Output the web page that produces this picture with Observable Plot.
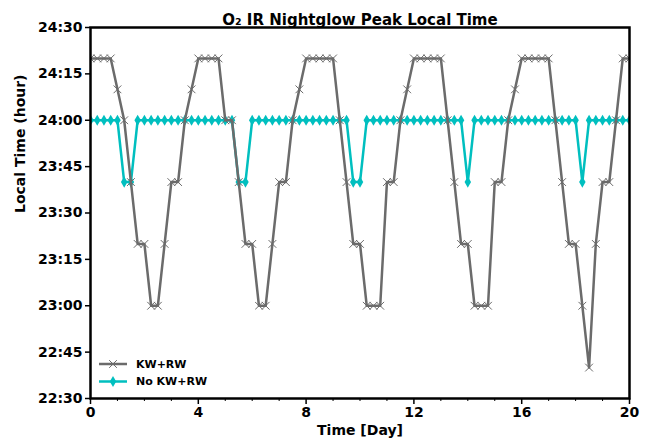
<!DOCTYPE html>
<html><head><meta charset="utf-8">
<script src="https://cdn.jsdelivr.net/npm/d3@7"></script>
<script src="https://cdn.jsdelivr.net/npm/@observablehq/plot@0.6"></script>
<style>body{margin:0;background:#fff;} svg{display:block;}</style>
</head><body><div id="chart"></div>
<script>
// ---- data ----
const days = [0,0.25,0.5,0.75,1,1.25,1.5,1.75,2,2.25,2.5,2.75,3,3.25,3.5,3.75,4,4.25,4.5,4.75,
  5,5.25,5.5,5.75,6,6.25,6.5,6.75,7,7.25,7.5,7.75,8,8.25,8.5,8.75,9,9.25,9.5,9.75,
  10,10.25,10.5,10.75,11,11.25,11.5,11.75,12,12.25,12.5,12.75,13,13.25,13.5,13.75,14,14.25,14.5,14.75,
  15,15.25,15.5,15.75,16,16.25,16.5,16.75,17,17.25,17.5,17.75,18,18.25,18.5,18.75,19,19.25,19.5,19.75,20];
const kwrw = ["24:20","24:20","24:20","24:20","24:10","24:00","23:40","23:20","23:20","23:00",
  "23:00","23:20","23:40","23:40","24:00","24:10","24:20","24:20","24:20","24:20",
  "24:00","24:00","23:40","23:20","23:20","23:00","23:00","23:20","23:40","23:40",
  "24:00","24:10","24:20","24:20","24:20","24:20","24:20","24:00","23:40","23:20",
  "23:20","23:00","23:00","23:00","23:40","23:40","24:00","24:10","24:20","24:20",
  "24:20","24:20","24:20","24:00","23:40","23:20","23:20","23:00","23:00","23:00",
  "23:40","23:40","24:00","24:10","24:20","24:20","24:20","24:20","24:20","24:00",
  "23:40","23:20","23:20","23:00","22:40","23:20","23:40","23:40","24:00","24:20","24:20"];
const noKwrw = ["24:00","24:00","24:00","24:00","24:00","23:40","23:40","24:00","24:00","24:00",
  "24:00","24:00","24:00","24:00","24:00","24:00","24:00","24:00","24:00","24:00",
  "24:00","24:00","23:40","23:40","24:00","24:00","24:00","24:00","24:00","24:00",
  "24:00","24:00","24:00","24:00","24:00","24:00","24:00","24:00","24:00","23:40",
  "23:40","24:00","24:00","24:00","24:00","24:00","24:00","24:00","24:00","24:00",
  "24:00","24:00","24:00","24:00","24:00","24:00","23:40","24:00","24:00","24:00",
  "24:00","24:00","24:00","24:00","24:00","24:00","24:00","24:00","24:00","24:00",
  "24:00","24:00","24:00","23:40","24:00","24:00","24:00","24:00","24:00","24:00","24:00"];
const seriesNames = ["KW+RW", "No KW+RW"];
const seriesColors = ["#6b6b6b", "#00bfbf"];
const xTicks = [0, 4, 8, 12, 16, 20];
const xMinorTicks = [1,2,3,5,6,7,9,10,11,13,14,15,17,18,19];
const yTicks = ["22:30","22:45","23:00","23:15","23:30","23:45","24:00","24:15","24:30"];
const titleText = "O\u2082 IR Nightglow Peak Local Time";
const xLabel = "Time [Day]";
const yLabel = "Local Time (hour)";

// ---- helpers ----
const toHours = s => { const [h, m] = s.split(":").map(Number); return h + m / 60; };
const fmt = v => { const h = Math.floor(v + 1e-9); const m = Math.round((v - h) * 60); return `${h}:${String(m).padStart(2, "0")}`; };
const rows = days.map((d, i) => ({day: d, kw: toHours(kwrw[i]), no: toHours(noKwrw[i])}));

const chart = Plot.plot({
  width: 651, height: 446,
  marginLeft: 90, marginRight: 22, marginTop: 27, marginBottom: 48,
  style: {fontFamily: "DejaVu Sans", fontSize: "14px", fontWeight: "bold", color: "black", background: "white", overflow: "visible"},
  x: {domain: [0, 20]},
  y: {domain: [toHours(yTicks[0]), toHours(yTicks[yTicks.length - 1])]},
  marks: [
    Plot.line(rows, {x: "day", y: "no", stroke: seriesColors[1], strokeWidth: 2.5, clip: true}),
    Plot.dot(rows, {x: "day", y: "no", symbol: "diamond", r: 3.4, fill: seriesColors[1], stroke: "none", clip: true}),
    Plot.line(rows, {x: "day", y: "kw", stroke: seriesColors[0], strokeWidth: 2.5, clip: true}),
    Plot.dot(rows, {x: "day", y: "kw", symbol: "times", r: 3.6, fill: "none", stroke: seriesColors[0], strokeWidth: 1, clip: true}),
    Plot.frame({stroke: "black", strokeWidth: 2.5}),
    Plot.axisX({ticks: xTicks, tickSize: 6, tickPadding: 3, strokeWidth: 1.5, label: null}),
    Plot.axisX({ticks: xMinorTicks, tickSize: 3, strokeWidth: 1, tickFormat: () => "", label: null}),
    Plot.axisY({ticks: yTicks.map(toHours), tickFormat: fmt, tickSize: 5, tickPadding: 3, strokeWidth: 1.5, label: null}),
    Plot.text([titleText], {frameAnchor: "top", dy: -13, fontSize: 15, fontWeight: "bold"}),
    Plot.text([xLabel], {frameAnchor: "bottom", dy: 36, fontSize: 14, fontWeight: "bold"}),
    Plot.text([yLabel], {frameAnchor: "left", dx: -70, rotate: -90, fontSize: 14, fontWeight: "bold"})
  ]
});

// ---- legend (inside the plot, lower left) ----
const svg = d3.select(chart);
const lg = svg.append("g").attr("font-family", "DejaVu Sans").attr("font-weight", "bold")
  .attr("font-size", 11).attr("text-anchor", "start");
const symbols = [d3.symbol(d3.symbolTimes, 40), d3.symbol(d3.symbolDiamond, 36)];
seriesNames.forEach((name, i) => {
  const y = 364 + i * 17.5;
  lg.append("line").attr("x1", 99).attr("x2", 127).attr("y1", y).attr("y2", y)
    .attr("stroke", seriesColors[i]).attr("stroke-width", 2.5);
  const p = lg.append("path").attr("d", symbols[i]()).attr("transform", `translate(113,${y})`);
  if (i === 0) p.attr("fill", "none").attr("stroke", seriesColors[i]).attr("stroke-width", 1);
  else p.attr("fill", seriesColors[i]);
  lg.append("text").attr("x", 136).attr("y", y).attr("dy", "0.35em").attr("text-anchor", "start").text(name);
});

document.getElementById("chart").appendChild(chart);
</script>
</body></html>
